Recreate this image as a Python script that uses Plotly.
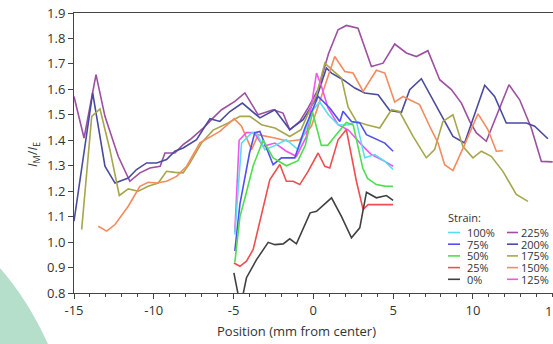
import plotly.graph_objects as go

# ---------------- data ----------------
x225 = [-15, -14.37, -13.62, -13.06, -12.23, -11.5, -10.87, -10.24, -9.6, -9.3, -8.68, -8.16, -7.74, -6.9, -6.28, -5.75, -4.92, -4.29, -3.46, -2.52, -1.9, -1.48, -0.85, -0.33, 0.3, 0.95, 1.55, 2.07, 2.8, 3.64, 4.37, 5.1, 5.83, 6.46, 7.18, 7.92, 8.65, 9.28, 9.8, 10.22, 10.84, 11.57, 12.26, 12.93, 13.66, 14.29, 15]
y225 = [1.572, 1.409, 1.658, 1.494, 1.337, 1.239, 1.272, 1.291, 1.298, 1.35, 1.35, 1.383, 1.402, 1.448, 1.488, 1.52, 1.553, 1.586, 1.50, 1.52, 1.507, 1.441, 1.474, 1.527, 1.60, 1.74, 1.834, 1.851, 1.84, 1.69, 1.703, 1.778, 1.743, 1.729, 1.752, 1.638, 1.599, 1.546, 1.474, 1.429, 1.396, 1.513, 1.618, 1.559, 1.448, 1.317, 1.315]

x200 = [-15, -13.83, -13.06, -12.43, -11.6, -11.08, -10.45, -9.82, -9.2, -8.68, -8.16, -7.32, -6.48, -5.86, -5.23, -4.45, -3.35, -2.41, -1.48, -0.64, 0.2, 0.82, 1.14, 1.86, 2.6, 3.22, 4.06, 4.79, 5.52, 6.04, 6.77, 8.02, 8.75, 9.48, 10.74, 11.36, 12.09, 13.35, 13.87, 14.7]
y200 = [1.082, 1.586, 1.298, 1.232, 1.252, 1.285, 1.311, 1.311, 1.324, 1.357, 1.37, 1.402, 1.485, 1.474, 1.513, 1.546, 1.488, 1.52, 1.442, 1.481, 1.566, 1.684, 1.664, 1.638, 1.605, 1.586, 1.579, 1.517, 1.51, 1.599, 1.642, 1.50, 1.415, 1.389, 1.616, 1.572, 1.468, 1.468, 1.455, 1.406]

x175 = [-14.52, -13.89, -13.37, -12.75, -12.16, -11.6, -10.97, -10.35, -9.72, -9.2, -8.68, -8.16, -7.74, -7.0, -6.28, -5.34, -4.6, -3.98, -3.25, -2.41, -1.48, -0.77, 0.2, 0.72, 1.3, 1.76, 2.18, 2.7, 3.33, 4.16, 4.9, 5.4, 6.25, 7.08, 7.6, 8.12, 8.75, 9.37, 10.0, 10.53, 11.15, 11.88, 12.72, 13.45]
y175 = [1.049, 1.494, 1.523, 1.363, 1.183, 1.209, 1.20, 1.219, 1.232, 1.278, 1.274, 1.272, 1.31, 1.39, 1.44, 1.468, 1.494, 1.494, 1.461, 1.448, 1.415, 1.442, 1.579, 1.703, 1.67, 1.645, 1.53, 1.474, 1.461, 1.448, 1.52, 1.513, 1.415, 1.331, 1.363, 1.474, 1.50, 1.376, 1.331, 1.357, 1.337, 1.278, 1.187, 1.16]

x150 = [-13.48, -12.95, -12.43, -11.6, -10.87, -10.35, -9.82, -9.2, -8.57, -7.94, -7.11, -5.86, -4.96, -4.5, -3.87, -3.46, -2.41, -1.58, -0.85, -0.12, 0.4, 1.34, 1.97, 2.49, 3.12, 3.95, 4.48, 5.1, 5.62, 6.66, 7.29, 7.81, 8.23, 8.75, 9.48, 10.32, 10.94, 11.47, 11.88]
y150 = [1.062, 1.043, 1.069, 1.141, 1.219, 1.235, 1.232, 1.239, 1.258, 1.298, 1.39, 1.435, 1.485, 1.455, 1.363, 1.422, 1.409, 1.396, 1.402, 1.455, 1.553, 1.729, 1.67, 1.664, 1.592, 1.675, 1.664, 1.55, 1.572, 1.54, 1.455, 1.39, 1.304, 1.281, 1.383, 1.504, 1.442, 1.357, 1.359]

x125 = [-4.92, -4.65, -4.2, -3.7, -3.15, -2.41, -1.69, -1.06, -0.43, 0.2, 0.51, 0.92, 1.55, 2.2, 3.01, 3.64, 4.48, 5.0]
y125 = [1.04, 1.40, 1.43, 1.43, 1.376, 1.389, 1.357, 1.337, 1.415, 1.664, 1.612, 1.527, 1.461, 1.44, 1.383, 1.344, 1.317, 1.298]

x100 = [-4.92, -4.5, -3.87, -3.56, -3.04, -2.52, -1.69, -0.96, -0.02, 0.4, 0.95, 1.55, 2.2, 2.7, 3.22, 3.85, 4.48, 5.0]
y100 = [1.03, 1.389, 1.429, 1.429, 1.363, 1.376, 1.402, 1.363, 1.52, 1.55, 1.50, 1.461, 1.46, 1.474, 1.331, 1.344, 1.317, 1.285]

x75 = [-4.92, -4.6, -4.0, -3.67, -3.35, -2.52, -2.0, -1.16, -0.53, 0.3, 1.03, 1.66, 1.86, 2.39, 2.91, 3.33, 4.48, 5.0]
y75 = [0.965, 1.15, 1.35, 1.43, 1.435, 1.304, 1.331, 1.331, 1.448, 1.572, 1.527, 1.474, 1.514, 1.474, 1.468, 1.422, 1.389, 1.357]

x50 = [-4.92, -4.6, -4.3, -3.77, -3.15, -2.52, -1.69, -0.96, -0.5, -0.05, 0.5, 0.9, 1.34, 2.07, 2.5, 3.1, 3.4, 3.95, 4.48, 5.0]
y50 = [0.92, 1.10, 1.17, 1.30, 1.40, 1.331, 1.30, 1.32, 1.38, 1.51, 1.38, 1.38, 1.415, 1.47, 1.46, 1.29, 1.25, 1.226, 1.22, 1.219]

x25 = [-4.98, -4.6, -4.19, -3.77, -2.73, -2.1, -1.69, -1.27, -0.85, -0.33, 0.3, 0.72, 1.03, 1.55, 2.07, 2.7, 3.12, 3.43, 4.48, 5.0]
y25 = [0.918, 0.905, 0.925, 0.971, 1.245, 1.305, 1.239, 1.239, 1.226, 1.278, 1.35, 1.298, 1.291, 1.402, 1.442, 1.239, 1.128, 1.147, 1.147, 1.147]

x0 = [-4.98, -4.7, -4.42, -4.19, -3.56, -2.83, -2.41, -1.89, -1.48, -1.06, -0.2, 0.2, 1.14, 1.76, 2.39, 2.91, 3.33, 3.95, 4.58, 5.0]
y0 = [0.879, 0.79, 0.79, 0.86, 0.931, 0.999, 0.99, 0.993, 1.013, 0.993, 1.115, 1.121, 1.174, 1.101, 1.017, 1.056, 1.196, 1.174, 1.183, 1.164]

x_ticks = [-15, -10, -5, 0, 5, 10, 15]
x_tick_labels = ["-15", "-10", "-5", "0", "5", "10", "15"]

# series: (name, x, y, colour)
series = [
    ("225%", x225, y225, "#9d4fa0"),
    ("200%", x200, y200, "#4a4aa0"),
    ("175%", x175, y175, "#a6a64c"),
    ("150%", x150, y150, "#f58a5c"),
    ("125%", x125, y125, "#ef55ef"),
    ("100%", x100, y100, "#55dff0"),
    ("75%", x75, y75, "#4f4ff2"),
    ("50%", x50, y50, "#4ede4e"),
    ("25%", x25, y25, "#f04e4e"),
    ("0%", x0, y0, "#404040"),
]
legend_left = ["100%", "75%", "50%", "25%", "0%"]
legend_right = ["225%", "200%", "175%", "150%", "125%"]

# ---------------- figure ----------------
W, H = 553, 344
L, R, T, B = 74, 0, 13, 51
PW, PH = W - L - R, H - T - B
FONT = "Open Sans"


def pp(px, py):
    """pixel -> paper coordinates"""
    return (px - L) / PW, (H - B - py) / PH


fig = go.Figure()
colors = {}
for name, xs, ys, col in series:
    colors[name] = col
    fig.add_trace(go.Scatter(x=xs, y=ys, mode="lines", name=name,
                             line=dict(color=col, width=1.6),
                             showlegend=False))

shapes = []
annotations = []

# decorative mint circle in the lower-left corner
p0 = pp(-6, 266)
pa = pp(0, 268)
pc = pp(28, 300)
pb = pp(48, 344)
pe = pp(52, 352)
pf = pp(-6, 352)
path = (f"M {p0[0]},{p0[1]} L {pa[0]},{pa[1]} Q {pc[0]},{pc[1]} {pb[0]},{pb[1]} "
        f"L {pe[0]},{pe[1]} L {pf[0]},{pf[1]} Z")
shapes.append(dict(type="path", path=path, xref="paper", yref="paper",
                   fillcolor="#b5dfcb", line=dict(width=0), layer="below"))

# custom compact legend
sx, sy = pp(447, 217)
annotations.append(dict(x=sx, y=sy, xref="paper", yref="paper", text="Strain:",
                        showarrow=False, xanchor="left", yanchor="middle",
                        height=11, borderpad=0,
                        font=dict(family=FONT, size=11, color="#333")))
for col_names, lx0, lx1, tx in ((legend_left, 448, 460, 466),
                                (legend_right, 507, 518, 520)):
    for i, nm in enumerate(col_names):
        py = 232.5 + i * 11.7
        a = pp(lx0, py)
        b = pp(lx1, py)
        shapes.append(dict(type="line", xref="paper", yref="paper",
                           x0=a[0], y0=a[1], x1=b[0], y1=b[1],
                           line=dict(color=colors[nm], width=1.6)))
        t = pp(tx, py)
        annotations.append(dict(x=t[0], y=t[1], xref="paper", yref="paper",
                                text=nm, showarrow=False, xanchor="left",
                                yanchor="middle", height=11, borderpad=0,
                                font=dict(family=FONT, size=11, color="#333")))

# last x tick label, cut by the right edge as in the reference
lt = pp(0, 311)
annotations.append(dict(x=x_ticks[-1], y=lt[1], xref="x", yref="paper",
                        text=x_tick_labels[-1], showarrow=False,
                        xanchor="center", yanchor="middle",
                        font=dict(family=FONT, size=13, color="#333")))

# axis titles
xt = pp(296, 331)
annotations.append(dict(x=xt[0], y=xt[1], xref="paper", yref="paper",
                        text="Position (mm from center)", showarrow=False,
                        xanchor="center", yanchor="middle",
                        font=dict(family=FONT, size=13, color="#333")))
yt = pp(33, 155)
annotations.append(dict(x=yt[0], y=yt[1], xref="paper", yref="paper",
                        text="<i>I</i><sub>M</sub>/<i>I</i><sub>E</sub>",
                        showarrow=False, textangle=-90,
                        xanchor="center", yanchor="middle",
                        font=dict(family=FONT, size=13, color="#333")))

fig.update_layout(
    width=W, height=H,
    margin=dict(l=L, r=R, t=T, b=B),
    paper_bgcolor="white", plot_bgcolor="white",
    font=dict(family=FONT, size=13, color="#333"),
    shapes=shapes, annotations=annotations,
    showlegend=False,
)
fig.update_xaxes(range=[-15, 15.02], tickvals=x_ticks[:-1],
                 ticktext=x_tick_labels[:-1],
                 ticks="outside", ticklen=5, tickwidth=1, tickcolor="#444",
                 showline=True, linecolor="#444", linewidth=1, mirror=True,
                 showgrid=False, zeroline=False,
                 minor=dict(dtick=1, ticks="outside", ticklen=3,
                            tickcolor="#444", showgrid=False),
                 tickfont=dict(family=FONT, size=13, color="#333"))
fig.update_yaxes(range=[0.8, 1.9], dtick=0.1, tick0=0.8, tickformat=".1f",
                 ticks="outside", ticklen=5, tickwidth=1, tickcolor="#444",
                 showline=True, linecolor="#444", linewidth=1, mirror=True,
                 showgrid=False, zeroline=False,
                 tickfont=dict(family=FONT, size=13, color="#333"))

fig.write_html(
    "out.html",
    config={"displayModeBar": False},
    post_script=("document.documentElement.style.margin='0';"
                 "document.body.style.margin='0';"
                 "document.body.style.padding='0';"
                 "document.body.style.overflow='hidden';"),
)
